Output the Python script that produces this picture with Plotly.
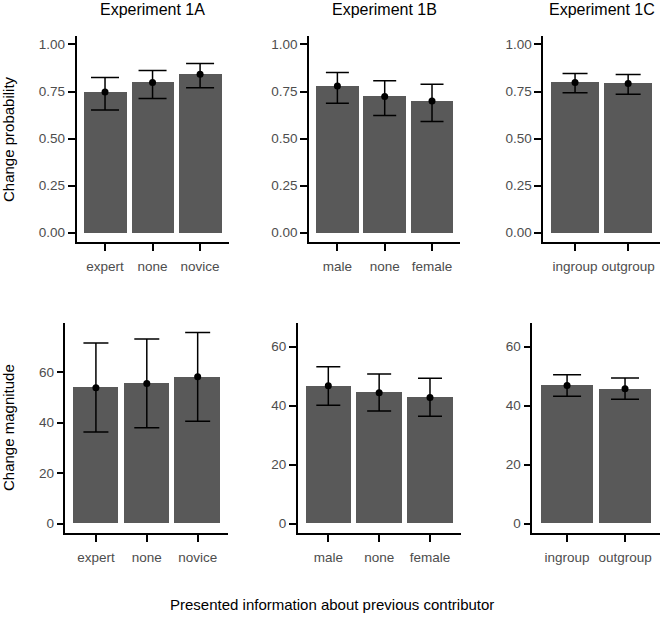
import plotly.graph_objects as go

W, H = 660, 619

# ---------------- data ----------------
exp_titles = ["Experiment 1A", "Experiment 1B", "Experiment 1C"]
cats_1a = ["expert", "none", "novice"]
cats_1b = ["male", "none", "female"]
cats_1c = ["ingroup", "outgroup"]

prob_1a = [0.747, 0.798, 0.842]
prob_1a_hi = [0.825, 0.862, 0.899]
prob_1a_lo = [0.651, 0.713, 0.770]

prob_1b = [0.779, 0.724, 0.699]
prob_1b_hi = [0.851, 0.807, 0.789]
prob_1b_lo = [0.687, 0.623, 0.591]

prob_1c = [0.798, 0.793]
prob_1c_hi = [0.846, 0.841]
prob_1c_lo = [0.743, 0.736]

mag_1a = [53.8, 55.5, 58.1]
mag_1a_hi = [71.5, 73.1, 75.7]
mag_1a_lo = [36.3, 38.0, 40.5]

mag_1b = [46.7, 44.4, 42.8]
mag_1b_hi = [53.2, 50.7, 49.3]
mag_1b_lo = [40.1, 38.2, 36.4]

mag_1c = [46.8, 45.7]
mag_1c_hi = [50.5, 49.4]
mag_1c_lo = [43.2, 42.2]

prob_ticks = [0, 0.25, 0.5, 0.75, 1.0]
mag_ticks = [0, 20, 40, 60]

# ---------------- layout helpers ----------------
def px_x(a, b):
    return [a / W, b / W]

def px_y(top, bottom):
    return [1 - bottom / H, 1 - top / H]

BAR_COLOR = "#595959"
TICK_COLOR = "#4D4D4D"
FONT = "Liberation Sans, Arial, Helvetica, sans-serif"

panels = [
    # (cats, mean, hi, lo, xdomain px, ydomain px, yrange, yticks, fmt, capwidth)
    (cats_1a, prob_1a, prob_1a_hi, prob_1a_lo, (76.5, 228.6), (36, 242), [-0.05, 1.045], prob_ticks, ".2f", 14),
    (cats_1b, prob_1b, prob_1b_hi, prob_1b_lo, (309, 460.4), (36, 242), [-0.05, 1.045], prob_ticks, ".2f", 11.5),
    (cats_1c, prob_1c, prob_1c_hi, prob_1c_lo, (543.2, 660), (36, 242), [-0.05, 1.045], prob_ticks, ".2f", 12.5),
    (cats_1a, mag_1a, mag_1a_hi, mag_1a_lo, (65.4, 228.2), (323.3, 533.3), [-3.8, 79.3], mag_ticks, "d", 12.5),
    (cats_1b, mag_1b, mag_1b_hi, mag_1b_lo, (297.8, 460.5), (323.3, 533.3), [-3.25, 67.9], mag_ticks, "d", 12),
    (cats_1c, mag_1c, mag_1c_hi, mag_1c_lo, (532.3, 659.8), (323.3, 533.3), [-3.25, 67.9], mag_ticks, "d", 14),
]

fig = go.Figure()
layout = {}
for i, (cats, m, hi, lo, xd, yd, yr, yt, fmt, cw) in enumerate(panels):
    n = i + 1
    xa = "x" if n == 1 else f"x{n}"
    ya = "y" if n == 1 else f"y{n}"
    fig.add_trace(go.Bar(
        x=cats, y=m, width=0.9, marker=dict(color=BAR_COLOR, line=dict(width=0)),
        xaxis=xa, yaxis=ya, showlegend=False, hoverinfo="skip",
    ))
    fig.add_trace(go.Scatter(
        x=cats, y=m, mode="markers",
        marker=dict(color="black", size=7),
        error_y=dict(type="data", symmetric=False,
                     array=[h - v for h, v in zip(hi, m)],
                     arrayminus=[v - l for v, l in zip(m, lo)],
                     color="black", thickness=1.5, width=cw),
        xaxis=xa, yaxis=ya, showlegend=False,
    ))
    xkey = "xaxis" if n == 1 else f"xaxis{n}"
    ykey = "yaxis" if n == 1 else f"yaxis{n}"
    layout[xkey] = dict(
        domain=px_x(*xd), anchor=ya, type="category",
        range=[-0.6, len(cats) - 0.4],
        showline=True, linecolor="black", linewidth=1.5,
        ticks="outside", ticklen=7, tickwidth=1.5, tickcolor="black",
        ticklabelstandoff=4,
        showgrid=False, zeroline=False,
        tickfont=dict(family=FONT, size=13.5, color=TICK_COLOR),
        fixedrange=True,
    )
    layout[ykey] = dict(
        domain=px_y(*yd), anchor=xa, range=yr,
        tickvals=yt, tickformat=fmt,
        showline=True, linecolor="black", linewidth=1.5,
        ticks="outside", ticklen=7, tickwidth=1.5, tickcolor="black",
        showgrid=False, zeroline=False,
        tickfont=dict(family=FONT, size=13.5, color=TICK_COLOR),
        fixedrange=True,
    )

annotations = []
title_centers = [152.5, 384.7, 601.6]
for t, cx in zip(exp_titles, title_centers):
    annotations.append(dict(
        text=t, x=cx / W, y=1 - 10 / H, xref="paper", yref="paper",
        xanchor="center", yanchor="middle", showarrow=False,
        font=dict(family=FONT, size=16, color="black"),
    ))
annotations.append(dict(
    text="Change probability", x=8 / W, y=1 - 139 / H, xref="paper", yref="paper",
    xanchor="center", yanchor="middle", textangle=-90, showarrow=False,
    font=dict(family=FONT, size=15, color="black"),
))
annotations.append(dict(
    text="Change magnitude", x=8 / W, y=1 - 428 / H, xref="paper", yref="paper",
    xanchor="center", yanchor="middle", textangle=-90, showarrow=False,
    font=dict(family=FONT, size=15, color="black"),
))
annotations.append(dict(
    text="Presented information about previous contributor",
    x=332 / W, y=1 - 604 / H, xref="paper", yref="paper",
    xanchor="center", yanchor="middle", showarrow=False,
    font=dict(family=FONT, size=15, color="black"),
))

fig.update_layout(
    width=W, height=H, margin=dict(l=0, r=0, t=0, b=0),
    paper_bgcolor="white", plot_bgcolor="white",
    bargap=0, showlegend=False, annotations=annotations,
    **layout,
)

fig.write_html("out.html")
